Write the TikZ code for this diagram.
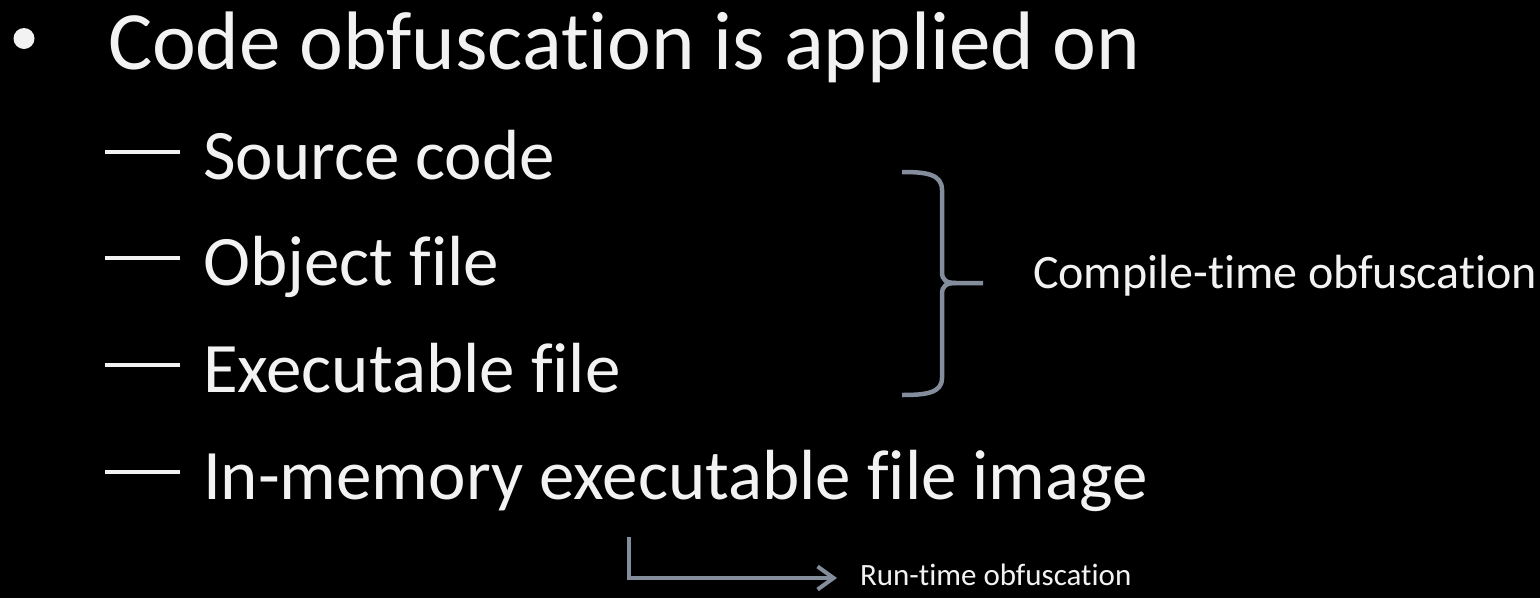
\documentclass[tikz,border=0pt]{standalone}
\usepackage{fontspec}
\setmainfont{Carlito}[Ligatures=CommonOff]
\usetikzlibrary{arrows.meta}
\definecolor{slidetext}{RGB}{242,242,242}
\definecolor{connector}{RGB}{132,141,155}
\tikzset{
  txt/.style={anchor=base west, inner sep=0pt, outer sep=0pt, text=slidetext},
  lvlone/.style={txt, font=\fontsize{83}{90}\selectfont},
  lvltwo/.style={txt, font=\fontsize{71}{80}\selectfont},
  note/.style={txt, font=\fontsize{48}{52}\selectfont},
  smallnote/.style={txt, font=\fontsize{31}{36}\selectfont},
  dashmark/.style={draw=slidetext, line width=4.5pt},
  grayline/.style={draw=connector, line width=4.5pt},
}
\begin{document}
\begin{tikzpicture}[x=1pt, y=-1pt]
  % slide background
  \fill[black] (0,0) rectangle (1540,598);
  \useasboundingbox (0,0) rectangle (1540,598);

  % first-level bullet
  \fill[slidetext] (24,38.5) circle[radius=10.5];
  \node[lvlone] (main) at (108,69) {Code obfuscation is applied on};

  % second-level items with dash markers
  \node[lvltwo] (src) at (203,179) {Source code};
  \node[lvltwo] (obj) at (203,285) {Object file};
  \node[lvltwo] (exe) at (203,392) {Executable file};
  \node[lvltwo] (mem) at (203,499) {In-memory executable file image};
  \draw[dashmark] (105,152) -- (180,152);
  \draw[dashmark] (105,258) -- (180,258);
  \draw[dashmark] (105,365) -- (180,365);
  \draw[dashmark] (105,472) -- (180,472);

  % right brace grouping the compile-time items
  \coordinate (brTop) at (902,172);
  \coordinate (brTip) at (983,283);
  \coordinate (brBot) at (902,395);
  \draw[grayline]
    (brTop) .. controls (926,172) and (942,174) .. (942,190)
    -- (942,272) .. controls (942,280) and (946,283) .. (956,283)
    -- (brTip);
  \draw[grayline]
    (956,283) .. controls (946,283) and (942,286) .. (942,294)
    -- (942,378) .. controls (942,393) and (926,395) .. (brBot);
  \node[note] (ct) at (1033,288) {Compile-time obfuscation};

  % elbow arrow to the run-time label
  \node[smallnote] (rt) at (860,585) {Run-time obfuscation};
  \coordinate (rtStart) at (629,537);
  \coordinate (rtEnd) at (837,578);
  \draw[grayline, line width=4pt, -{Straight Barb[length=16pt, width=23pt, line width=4pt]}]
    (rtStart) |- (rtEnd);
\end{tikzpicture}
\end{document}
